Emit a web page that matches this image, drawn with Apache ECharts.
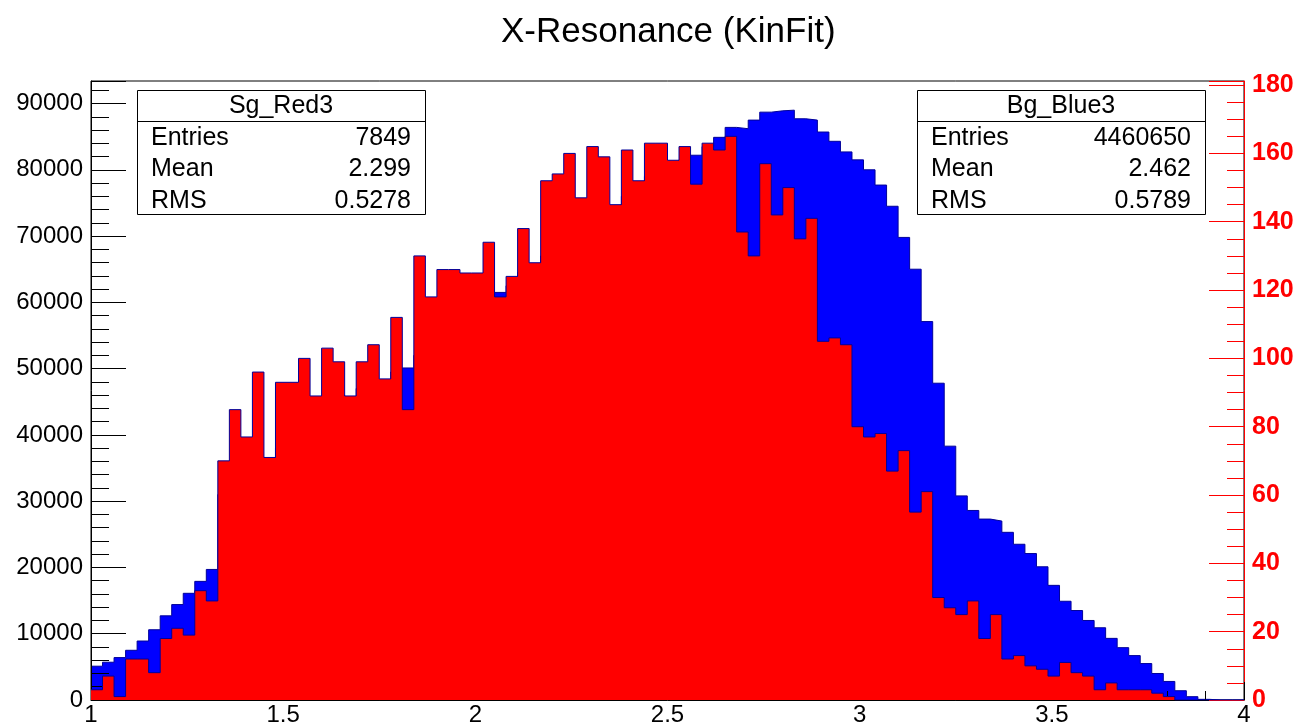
<!DOCTYPE html>
<html><head><meta charset="utf-8">
<script src="https://cdn.jsdelivr.net/npm/echarts@6/dist/echarts.min.js"></script>
<style>html,body{margin:0;padding:0;background:#fff}#c{width:1302px;height:728px}</style>
</head><body><div id="c"></div>
<script>
// ---- data ----
const chartTitle = 'X-Resonance (KinFit)';
const binLow = 1.0;
const binWidth = 0.03;
// Bg_Blue3 bin contents (left axis)
const bgBlue3 = [
  5100, 5700, 6400, 7500, 8900, 10600, 12700, 14400, 16100, 17900,
  19700, 31000, 33000, 34500, 35500, 36000, 38000, 40000, 42000, 44000,
  45000, 46000, 45500, 47000, 48000, 48000, 49500, 50100, 52000, 53500,
  55000, 56500, 58000, 59500, 60500, 61500, 62500, 64500, 65500, 67000,
  68500, 70000, 71500, 73000, 74000, 74000, 76000, 77500, 79000, 80000,
  81000, 81500, 82200, 83500, 84900, 86400, 86200, 87500, 88700, 88900,
  89000, 87700, 87500, 85700, 84300, 82700, 81500, 80000, 77700, 74500,
  69800, 65000, 57100, 47800, 38300, 30800, 28600, 27300, 27000, 25300,
  23500, 22100, 20100, 17300, 14900, 13500, 12000, 10900, 9300, 7900,
  6700, 5500, 4000, 2800, 1400, 500, 100, 0, 0, 0
];
// Sg_Red3 bin contents (right axis)
const sgRed3 = [
  3, 7, 1, 12, 12, 8, 18, 21, 19, 32,
  29, 70, 85, 77, 96, 71, 93, 93, 100, 89,
  103, 99, 89, 99, 104, 94, 112, 85, 130, 118,
  126, 126, 125, 125, 134, 118, 124, 138, 128, 152,
  154, 160, 147, 162, 159, 145, 161, 152, 163, 163,
  158, 162, 151, 163, 161, 165, 137, 130, 157, 142,
  150, 135, 141, 105, 106, 104, 80, 77, 78, 67,
  73, 55, 61, 30, 27, 25, 29, 18, 25, 12,
  13, 10, 9, 7, 11, 8, 7, 3, 5, 3,
  3, 3, 2, 1, 0, 0, 0, 0, 0, 0
];
const statLabels = ['Entries', 'Mean', 'RMS'];
const sgName = 'Sg_Red3';
const sgStatValues = ['7849', '2.299', '0.5278'];
const bgName = 'Bg_Blue3';
const bgStatValues = ['4460650', '2.462', '0.5789'];

// ---- build ----
function toSteps(vals) {
  const d = vals.map((v, i) => [+(binLow + i * binWidth).toFixed(4), v]);
  d.push([+(binLow + vals.length * binWidth).toFixed(4), vals[vals.length - 1]]);
  return d;
}
const FONT = '"Liberation Sans", Arial, Helvetica, sans-serif';

function statBox(x0, name, values) {
  const w = 288, h = 124, y0 = 90, hdr = 31, rowY = [138, 169, 201];
  const els = [
    { type: 'rect', shape: { x: x0 + 0.5, y: y0 + 0.5, width: w, height: h },
      style: { fill: '#fff', stroke: '#000', lineWidth: 1 }, z: 10 },
    { type: 'line', shape: { x1: x0, y1: y0 + hdr + 0.5, x2: x0 + w, y2: y0 + hdr + 0.5 },
      style: { stroke: '#000', lineWidth: 1 }, z: 11 },
    { type: 'text', x: x0 + w / 2, y: y0 + hdr / 2 + 1, z: 11,
      style: { text: name, fill: '#000', font: '25px ' + FONT, align: 'center', verticalAlign: 'middle' } }
  ];
  statLabels.forEach((lab, i) => {
    els.push({ type: 'text', x: x0 + 14, y: rowY[i], z: 11,
      style: { text: lab, fill: '#000', font: '25px ' + FONT, align: 'left', verticalAlign: 'middle' } });
    els.push({ type: 'text', x: x0 + w - 14, y: rowY[i], z: 11,
      style: { text: values[i], fill: '#000', font: '25px ' + FONT, align: 'right', verticalAlign: 'middle' } });
  });
  return els;
}

const chart = echarts.init(document.getElementById('c'), null, { renderer: 'canvas' });
const option = {
  animation: false,
  backgroundColor: '#fff',
  title: {
    text: chartTitle, left: 496, top: 10,
    textStyle: { fontFamily: FONT, fontSize: 35, fontWeight: 'normal', color: '#000' }
  },
  grid: { left: 91, right: 58, top: 81, bottom: 28, show: true, borderColor: '#000', borderWidth: 1, backgroundColor: 'transparent' },
  xAxis: {
    type: 'value', min: 1, max: 4, interval: 0.5, z: 3,
    axisLine: { show: true, onZero: false, lineStyle: { color: '#000', width: 1 } },
    axisTick: { show: true, inside: true, length: 18, lineStyle: { color: '#000' } },
    minorTick: { show: true, splitNumber: 5, length: 9, lineStyle: { color: '#000' } },
    splitLine: { show: false },
    axisLabel: { color: '#000', fontSize: 24, fontFamily: FONT, margin: 3, formatter: v => String(v) }
  },
  yAxis: [
    {
      type: 'value', min: 0, max: 93400, interval: 10000, position: 'left', z: 3,
      axisLine: { show: true, lineStyle: { color: '#000', width: 1 } },
      axisTick: { show: true, inside: true, length: 35, lineStyle: { color: '#000' } },
      minorTick: { show: true, splitNumber: 5, length: 18, lineStyle: { color: '#000' } },
      splitLine: { show: false },
      axisLabel: { color: '#000', fontSize: 24, fontFamily: FONT, margin: 8, showMaxLabel: false, formatter: v => String(v) }
    },
    {
      type: 'value', min: 0, max: 181.2, interval: 20, position: 'right', z: 3,
      axisLine: { show: true, lineStyle: { color: '#ff0000', width: 1 } },
      axisTick: { show: true, inside: true, length: 35, lineStyle: { color: '#ff0000' } },
      minorTick: { show: true, splitNumber: 4, length: 17, lineStyle: { color: '#ff0000' } },
      splitLine: { show: false },
      axisLabel: { color: '#ff0000', fontSize: 25, fontWeight: 'bold', fontFamily: FONT, margin: 8, showMaxLabel: false, formatter: v => String(v) }
    }
  ],
  series: [
    {
      name: bgName, type: 'line', step: 'end', yAxisIndex: 0, z: 2,
      data: toSteps(bgBlue3), symbol: 'none', silent: true,
      lineStyle: { color: '#000099', width: 1 },
      areaStyle: { color: '#0000ff', opacity: 1 }
    },
    {
      name: sgName, type: 'line', step: 'end', yAxisIndex: 1, z: 4,
      data: toSteps(sgRed3), symbol: 'none', silent: true,
      lineStyle: { color: '#000099', width: 1 },
      areaStyle: { color: '#ff0000', opacity: 1 }
    }
  ],
  graphic: [].concat(statBox(137, sgName, sgStatValues), statBox(917, bgName, bgStatValues))
};
chart.setOption(option);
</script>
</body></html>
